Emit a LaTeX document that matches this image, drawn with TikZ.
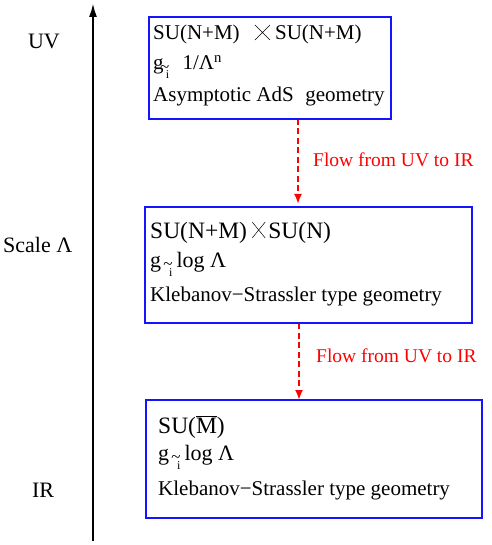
\documentclass[tikz,border=0pt]{standalone}
\usepackage{fontspec}
\setmainfont{Liberation Serif}
\usetikzlibrary{arrows.meta}
\definecolor{boxblue}{RGB}{20,20,255}
\newcommand\isim{\makebox[0.4em][l]{\raisebox{-0.42em}{\kern0.06em\fontsize{12}{12}\selectfont i}\llap{\raisebox{-0.1em}{\fontsize{17}{17}\selectfont\textasciitilde}}}}
\tikzset{
  box/.style={anchor=north west, inner sep=0pt, outer sep=0pt},
  boxline/.style={draw=boxblue, line width=1.1pt},
  txt/.style={anchor=base west, inner sep=0pt, font=\fontsize{21}{25}\selectfont},
  big/.style={font=\fontsize{23.5}{27}\selectfont},
  mid/.style={font=\fontsize{22}{26}\selectfont},
  thinx/.style={line width=0.5pt},
  flow/.style={red, line width=2.4pt, dash pattern=on 6pt off 3.5pt, -{Latex[length=10pt,width=8pt]}},
  flowlbl/.style={anchor=base west, inner sep=0pt, text=red, font=\fontsize{19.5}{22}\selectfont},
  axislbl/.style={anchor=base, inner sep=0pt, font=\fontsize{22}{26}\selectfont}
}
\begin{document}
\begin{tikzpicture}[x=1pt,y=-1pt]
\useasboundingbox (0,0) rectangle (491,545);
% axis
\coordinate (ab) at (93,541);
\coordinate (at) at (93,3);
\draw[line width=2.2pt, -{Latex[length=14pt,width=8pt]}] (ab) -- (at);
\node[axislbl] (uv) at (44,49) {UV};
\node[axislbl, anchor=base west] (sc) at (3,252) {Scale Λ};
\node[axislbl] (ir) at (43,497) {IR};
% boxes (named areas)
\node[box, minimum width=242pt, minimum height=102pt] (b1) at (149,17) {};
\node[box, minimum width=327pt, minimum height=116pt] (b2) at (145,207) {};
\node[box, minimum width=336pt, minimum height=118pt] (b3) at (146,400) {};
% box 1 text
\node[txt] (t11a) at (153,40) {SU(N+M)};
\coordinate (x1) at ([xshift=15pt]t11a.base east);
\draw[thinx] (x1) -- ++(15,-15) ([yshift=15pt]x1) -- ++(15,15);
\node[txt] (t11b) at ([xshift=20pt]x1) {SU(N+M)};
\node[txt] (t12) at (153,70) {g\kern1pt\isim\hspace{0.45em}1/Λ\textsuperscript{n}};
\node[txt] (t13) at (153,102) {Asymptotic AdS\hspace{0.3em} geometry};
% box 2 text
\node[txt, big] (t21a) at (150,238) {SU(N+M)};
\coordinate (x2) at ([xshift=5pt]t21a.base east);
\draw[thinx] (x2) -- ++(13,-16) ([yshift=16pt]x2) -- ++(13,16);
\node[txt, big] (t21b) at ([xshift=16pt]x2) {SU(N)};
\node[txt, mid] (t22) at (150,267) {g\hspace{0.3em}\isim log Λ};
\node[txt] (t23) at (150,301) {Klebanov−Strassler type geometry};
% box 3 text
\node[txt, big] (t31) at (158,433) {SU($\overline{\hbox{M}}$)};
\node[txt, mid] (t32) at (158,460) {g\hspace{0.3em}\isim log Λ};
\node[txt] (t33) at (158,495) {Klebanov−Strassler type geometry};
% flows
\coordinate (f1) at (298,204);
\draw[flow] (b1.south -| f1) -- (f1);
\node[flowlbl] (l1) at (313,167) {Flow from UV to IR};
\coordinate (f2) at (299,399);
\draw[flow] (b2.south -| f2) -- (b3.north -| f2);
\node[flowlbl] (l2) at (316,362) {Flow from UV to IR};
% box outlines
\draw[boxline] (b1.north west) rectangle (b1.south east);
\draw[boxline] (b2.north west) rectangle (b2.south east);
\draw[boxline] (b3.north west) rectangle (b3.south east);
\end{tikzpicture}
\end{document}
